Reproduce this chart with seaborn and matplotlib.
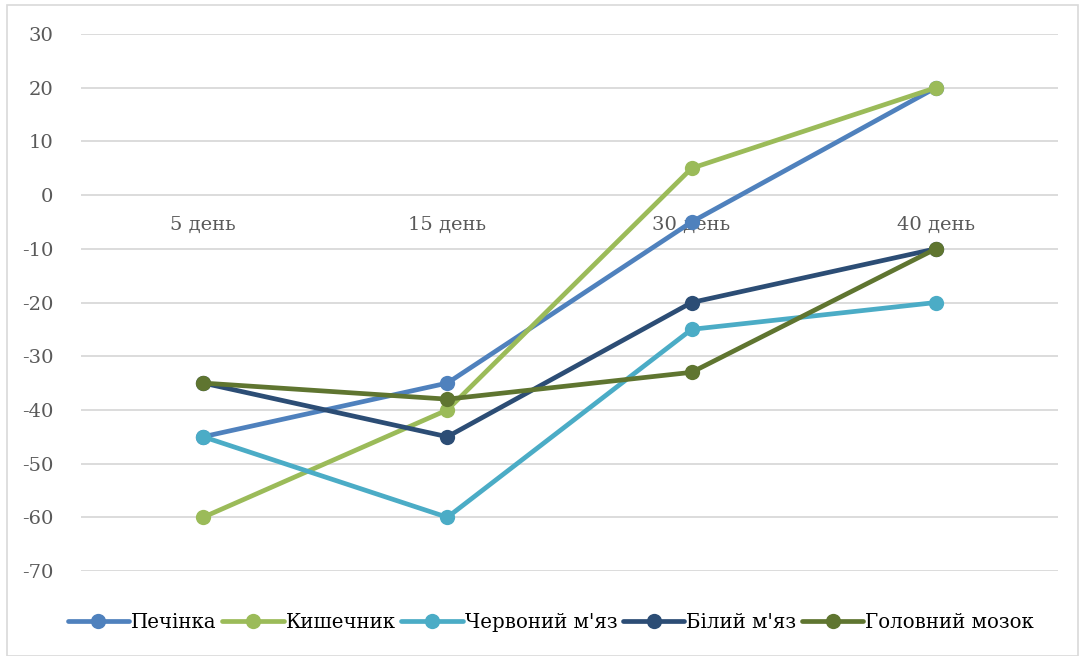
import matplotlib
matplotlib.use("Agg")
import matplotlib.pyplot as plt
import seaborn as sns
import pandas as pd
from matplotlib.patches import Rectangle

days = ["5 день", "15 день", "30 день", "40 день"]
series_names = ["Печінка", "Кишечник", "Червоний м'яз", "Білий м'яз", "Головний мозок"]
pechinka = [-45, -35, -5, 20]
kyshechnyk = [-60, -40, 5, 20]
chervonyi = [-45, -60, -25, -20]
bilyi = [-35, -45, -20, -10]
mozok = [-35, -38, -33, -10]
y_ticks = [30, 20, 10, 0, -10, -20, -30, -40, -50, -60, -70]

colors = ["#4F81BD", "#9BBB59", "#4BACC6", "#2C4D75", "#5F7530"]

values = [pechinka, kyshechnyk, chervonyi, bilyi, mozok]
rows = []
for name, vals in zip(series_names, values):
    for i, v in enumerate(vals):
        rows.append({"day": i, "value": v, "series": name})
df = pd.DataFrame(rows)

sns.set_style("white")
plt.rcParams["font.family"] = ["DejaVu Serif"]

fig = plt.figure(figsize=(10.85, 6.56), dpi=100)
ax = fig.add_axes([81 / 1085, 1 - 571 / 656, (1058 - 81) / 1085, (571 - 34) / 656])

sns.lineplot(
    data=df, x="day", y="value", hue="series", hue_order=series_names,
    palette=colors, marker="o", markersize=11, markeredgewidth=0,
    linewidth=3.4, ax=ax, legend=True, sort=False,
)

ax.set_xlim(-0.5, 3.5)
ax.set_ylim(-70, 30)
ax.set_yticks(y_ticks)
ax.set_yticklabels([str(t) for t in y_ticks], color="#595959", fontsize=14)
ax.yaxis.grid(True, color="#D9D9D9", linewidth=1.3)
ax.set_axisbelow(True)
for s in ["left", "right", "top"]:
    ax.spines[s].set_visible(False)
ax.spines["bottom"].set_position(("data", 0))
ax.spines["bottom"].set_visible(False)
ax.set_xticks(range(len(days)))
ax.set_xticklabels(days, color="#595959", fontsize=14)
ax.tick_params(axis="x", length=0, pad=15)
ax.tick_params(axis="y", length=0, pad=20)
ax.set_xlabel("")
ax.set_ylabel("")

handles, labels = ax.get_legend_handles_labels()
leg = ax.legend(
    handles, labels, loc="center", bbox_to_anchor=(551 / 1085, 1 - 622 / 656),
    bbox_transform=fig.transFigure, ncol=5, frameon=False,
    handlelength=3.1, handletextpad=0.1, columnspacing=0.3,
    prop={"family": ["DejaVu Serif"], "size": 14.2},
)
for t in leg.get_texts():
    t.set_color("black")

fig.patches.append(Rectangle((7 / 1085, 0), 1 - 14 / 1085, 1 - 5 / 656,
                             transform=fig.transFigure, fill=False,
                             edgecolor="#D9D9D9", linewidth=1.2))

fig.savefig("out.png", dpi=100, facecolor="white")
